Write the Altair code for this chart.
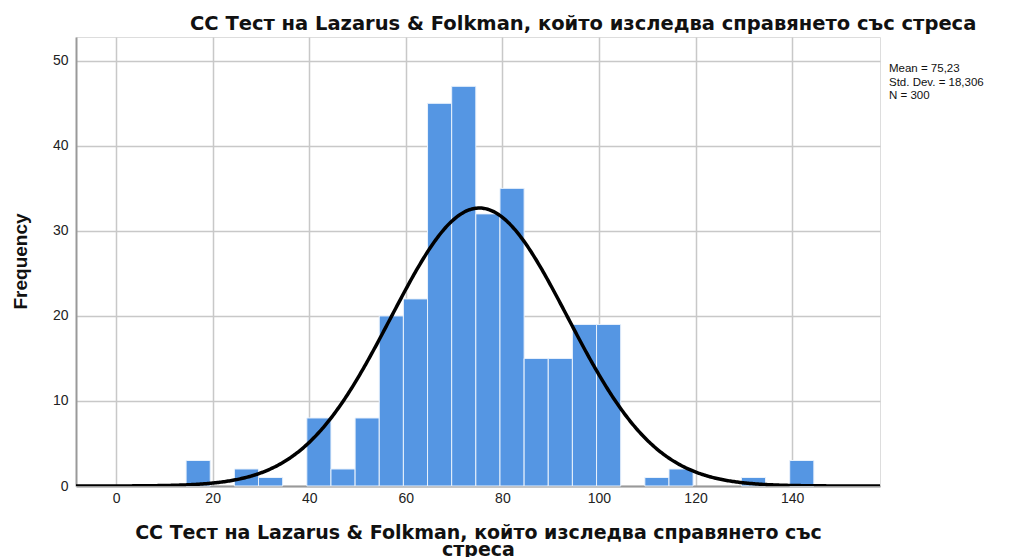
import altair as alt
import pandas as pd

# Histogram bins (lower edge, upper edge) and frequencies
bin_start = [14.5, 24.5, 29.5, 39.5, 44.5, 49.5, 54.5, 59.5, 64.5, 69.5,
             74.5, 79.5, 84.5, 89.5, 94.5, 99.5, 109.5, 114.5, 129.5, 139.5]
bin_end = [19.5, 29.5, 34.5, 44.5, 49.5, 54.5, 59.5, 64.5, 69.5, 74.5,
           79.5, 84.5, 89.5, 94.5, 99.5, 104.5, 114.5, 119.5, 134.5, 144.5]
counts = [3, 2, 1, 8, 2, 8, 20, 22, 45, 47,
          32, 35, 15, 15, 19, 19, 1, 2, 1, 3]

MEAN = 75.23
SD = 18.306
N = 300
BIN_WIDTH = 5

x_ticks = [0, 20, 40, 60, 80, 100, 120, 140]
y_ticks = [0, 10, 20, 30, 40, 50]
X_DOMAIN = [-8.3, 158.2]
Y_DOMAIN = [0, 52.8]

title_text = "СС Тест на Lazarus & Folkman, който изследва справянето със стреса"
x_title = ["СС Тест на Lazarus & Folkman, който изследва справянето със", "стреса"]
stats_text = "Mean = 75,23\nStd. Dev. = 18,306\nN = 300"

FONT = "Liberation Sans"
TFONT = "DejaVu Sans"

df = pd.DataFrame({"start": bin_start, "end": bin_end, "count": counts})

xscale = alt.Scale(domain=X_DOMAIN, nice=False, zero=False)
yscale = alt.Scale(domain=Y_DOMAIN, nice=False)

bars = alt.Chart(df).mark_rect(color="#5596E3", stroke="#eaf2fc", strokeWidth=1).encode(
    x=alt.X("start:Q", scale=xscale,
            axis=alt.Axis(values=x_ticks, title=x_title, grid=True, gridColor="#c8c8c8",
                          gridWidth=1.5, domainColor="#999999", domainWidth=2, ticks=False,
                          labelFont=FONT, labelFontSize=14, labelColor="#222222",
                          labelPadding=5, titleFont=TFONT, titleFontSize=19,
                          titleFontWeight="bold", titleColor="#111111",
                          titleBaseline="alphabetic", titleY=52, titleLineHeight=17)),
    x2="end:Q",
    y=alt.Y("count:Q", scale=yscale,
            axis=alt.Axis(values=y_ticks, title="Frequency", grid=True, gridColor="#c8c8c8",
                          gridWidth=1.5, domainColor="#999999", domainWidth=2, ticks=False,
                          labelFont=FONT, labelFontSize=14, labelColor="#222222",
                          labelPadding=8, titleFont=FONT, titleFontSize=19,
                          titleFontWeight="bold", titleColor="#111111",
                          titleAngle=-90, titleX=-56, titleY=224, titleBaseline="middle",
                          titleAlign="center")),
    y2=alt.datum(0),
)

curve = alt.Chart(alt.sequence(start=X_DOMAIN[0], stop=X_DOMAIN[1] + 0.25, step=0.25, as_="x")).transform_calculate(
    y=f"{N * BIN_WIDTH} / ({SD} * sqrt(2 * PI)) * exp(-0.5 * pow((datum.x - {MEAN}) / {SD}, 2))"
).mark_line(color="black", strokeWidth=3.5, clip=True).encode(
    x=alt.X("x:Q", scale=xscale),
    y=alt.Y("y:Q", scale=yscale),
)

stats = alt.Chart(pd.DataFrame({"t": [stats_text]})).mark_text(
    align="left", baseline="alphabetic", font=FONT, fontSize=11.5, lineHeight=13.5,
    lineBreak="\n", color="#111111"
).encode(
    text="t:N",
    x=alt.value(813),
    y=alt.value(35),
)

chart = alt.layer(bars, curve, stats).properties(
    width=804,
    height=449,
    padding={"left": 68, "top": 29, "right": 128, "bottom": 71},
    autosize=alt.AutoSizeParams(type="none"),
    title=alt.TitleParams(text=title_text, anchor="start", frame="group", dx=114, dy=18,
                          offset=6, baseline="alphabetic", font=TFONT, fontSize=19.5,
                          fontWeight="bold", color="#111111"),
).configure_view(stroke=None).configure(background="white")

chart.save("out.html", embed_options={"renderer": "svg", "actions": False})
